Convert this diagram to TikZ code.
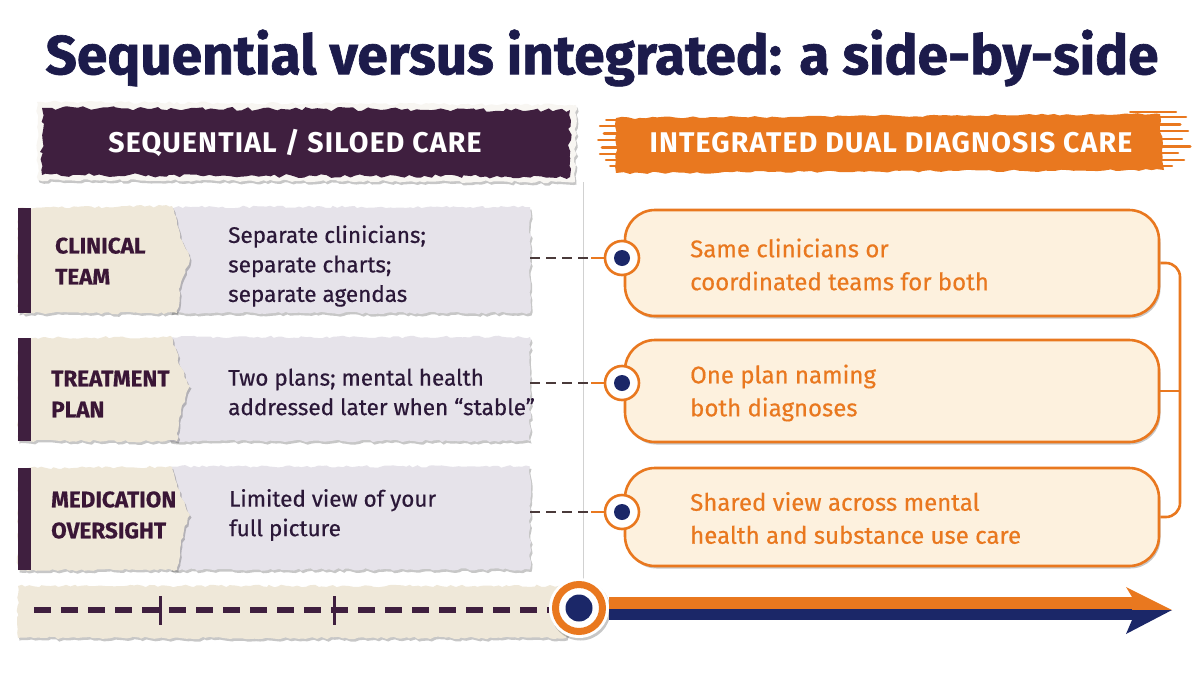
\documentclass[tikz,border=0pt]{standalone}
\usepackage{fontspec}
\setmainfont{Fira Sans}
\newfontfamily\fmed{Fira Sans}[FakeBold=0.5]
\newfontfamily\fheavy{Fira Sans}[FakeBold=1.2]
\newfontfamily\flbl{Fira Sans}[FakeBold=0.5]
\newfontfamily\fhead{Fira Sans}[LetterSpace=4]
\usetikzlibrary{decorations.pathmorphing,shadows,calc}
\definecolor{navy}{HTML}{1C1B4B}
\definecolor{plum}{HTML}{3F1F3F}
\definecolor{plumtext}{HTML}{3A1636}
\definecolor{inktext}{HTML}{2B1838}
\definecolor{orng}{HTML}{E9781F}
\definecolor{cream}{HTML}{FDF1DE}
\definecolor{beige}{HTML}{EFE8D9}
\definecolor{lav}{HTML}{E6E3EA}
\definecolor{dotblue}{HTML}{1B2768}
\definecolor{dashbrown}{HTML}{4A3A3A}
\definecolor{paperedge}{HTML}{F8F6F2}
\begin{document}
\pgfmathsetseed{7}
\begin{tikzpicture}[x=1pt,y=-1pt,
  torn/.style={decorate,decoration={random steps,segment length=4pt,amplitude=1.3pt}},
  softshadow/.style={drop shadow={shadow xshift=1.5pt,shadow yshift=-2.5pt,opacity=0.22,fill=black}},
  title/.style={font=\fontsize{55}{60}\selectfont\fheavy\bfseries,text=navy,inner sep=0},
  hdrtext/.style={font=\fontsize{28.5}{32}\selectfont\fhead\bfseries,text=white,inner sep=0},
  lbl/.style={font=\fontsize{22.5}{31}\selectfont\flbl\bfseries,text=plumtext,align=left,inner sep=0,anchor=west},
  body/.style={font=\fontsize{22.5}{29.5}\fmed,text=inktext,align=left,inner sep=0,anchor=west},
  rtext/.style={font=\fontsize{24}{33}\fmed,text=orng,align=left,inner sep=0,anchor=west},
  panel/.style={fill=lav,torn,softshadow,minimum width=360pt,inner sep=0},
  ibox/.style={draw=orng,line width=2.6pt,fill=cream,rounded corners=30pt,minimum width=534pt,inner sep=0,softshadow},
  ring/.style={circle,draw=orng,line width=2.6pt,fill=white,minimum size=34pt,inner sep=0},
  dot/.style={circle,fill=dotblue,minimum size=16pt,inner sep=0},
  dashc/.style={draw=dashbrown,line width=2.8pt,dash pattern=on 10pt off 6pt},
  olink/.style={draw=orng,line width=2.6pt},
  bracket/.style={draw=orng,line width=2.6pt,rounded corners=14pt}
]
\useasboundingbox (0,0) rectangle (1200,675);
\fill[white] (0,0) rectangle (1200,675);

% title
\node[title] (title) at (602,58) {Sequential versus integrated: a side-by-side};

% separator
\draw[black!18,line width=0.8pt] (583,182) -- (583,582);

% left header
\fill[paperedge,torn,softshadow] (37,102) -- (576,105) -- (575,182) -- (38,180) -- cycle;
\fill[plum,decorate,decoration={random steps,segment length=5pt,amplitude=2pt}] (42,108) -- (570,110) -- (570,177) -- (42,175) -- cycle;
\node[hdrtext] (hl) at (295,143) {SEQUENTIAL / SILOED CARE};

% right header brush
\fill[orng,decorate,decoration={random steps,segment length=6pt,amplitude=1.2pt}] (616,118) -- (1160,114) -- (1164,170) -- (616,173) -- cycle;
\foreach \yy/\xa/\xb/\w in {120/606/630/2, 126/600/640/2.5, 133/604/630/3, 140/598/625/2, 147/602/635/3, 154/600/628/2.5, 160/606/632/2.5, 166/610/640/2,
  112/1130/1176/2, 117/1140/1186/2.5, 124/1150/1180/3, 131/1150/1188/2.5, 139/1150/1182/2, 146/1150/1190/3, 153/1150/1178/2.5, 160/1150/1184/2.5, 166/1140/1172/2}
  \draw[orng,line width=\w pt,line cap=round] (\xa,\yy) -- (\xb,\yy);
\node[hdrtext] (hr) at (891,143) {INTEGRATED DUAL DIAGNOSIS CARE};

% ---------- row 1
\node[panel,minimum height=106pt] (p1) at (350,260) {};
\fill[beige,torn,softshadow] (18,208) -- (172,206) -- (180,238) -- (190,258) -- (181,282) -- (177,313) -- (18,313) -- cycle;
\fill[plum] (18,208) rectangle (31,313);
\node[lbl] (l1) at (55,261) {CLINICAL\\TEAM};
\node[body] (t1) at (228,266) {Separate clinicians;\\separate charts;\\separate agendas};

% ---------- row 2
\node[panel,minimum height=104pt] (p2) at (350,389) {};
\fill[beige,torn,softshadow] (18,338) -- (172,337) -- (180,366) -- (190,386) -- (181,410) -- (177,441) -- (18,441) -- cycle;
\fill[plum] (18,338) rectangle (31,441);
\node[lbl] (l2) at (51,394) {TREATMENT\\PLAN};
\node[body] (t2) at (228,392) {Two plans; mental health\\addressed later when “stable”};

% ---------- row 3
\node[panel,minimum height=103pt] (p3) at (350,518) {};
\fill[beige,torn,softshadow] (18,468) -- (172,467) -- (180,496) -- (190,515) -- (181,540) -- (177,570) -- (18,570) -- cycle;
\fill[plum] (18,468) rectangle (31,570);
\node[lbl] (l3) at (51,515) {MEDICATION\\OVERSIGHT};
\node[body] (t3) at (229,515) {Limited view of your\\full picture};

% ---------- right boxes
\node[ibox,minimum height=106pt] (b1) at (892,263) {};
\node[ibox,minimum height=102pt] (b2) at (892,391) {};
\node[ibox,minimum height=98pt] (b3) at (892,517) {};
\node[rtext] (r1) at (690,264.5) {Same clinicians or\\coordinated teams for both};
\node[rtext] (r2) at (690,393) {One plan naming\\both diagnoses};
\node[rtext] (r3) at (690,518) {Shared view across mental\\health and substance use care};

% circles
\node[ring] (c1) at (622,258) {};
\node[dot] (d1) at (c1) {};
\node[ring] (c2) at (622,383) {};
\node[dot] (d2) at (c2) {};
\node[ring] (c3) at (622,512) {};
\node[dot] (d3) at (c3) {};

% dashed links
\coordinate (k1) at (591,258);
\coordinate (k2) at (591,383);
\coordinate (k3) at (591,512);
\draw[dashc] (p1.east |- k1) -- (k1);
\draw[olink] (k1) -- (c1.west);
\draw[dashc] (p2.east |- k2) -- (k2);
\draw[olink] (k2) -- (c2.west);
\draw[dashc] (p3.east |- k3) -- (k3);
\draw[olink] (k3) -- (c3.west);

% bracket
\coordinate (br) at (1180,0);
\draw[bracket] (b1.east) -- (b1.east -| br) -- (b3.east -| br) -- (b3.east);
\draw[olink] (b2.east) -- (b2.east -| br);

% ---------- bottom timeline
\node[fill=beige,torn,softshadow,minimum width=548pt,minimum height=52pt,inner sep=0] (bs) at (292,612) {};
\node[circle,fill=white,minimum size=60pt,inner sep=0,softshadow] (bcw) at (579,608) {};
\node[circle,draw=orng,line width=7pt,fill=white,minimum size=47pt,inner sep=0] (bc) at (bcw) {};
\node[circle,fill=dotblue,minimum size=27pt,inner sep=0] (bd) at (bc) {};
\coordinate (d0) at (34,610);
\draw[plum,line width=6pt,dash pattern=on 17pt off 10pt] (d0) -- (bcw.west |- d0);
\draw[plum,line width=3pt] (160,596) -- (160,625);
\draw[plum,line width=3pt] (334,596) -- (334,625);

% arrow
\coordinate (tip) at (1172,610);
\fill[orng] (bcw.east |- 0,597) rectangle (1132,609);
\fill[dotblue] (bcw.east |- 0,609) rectangle (1132,620);
\fill[orng] (1126,587) -- (tip) -- (1132,610) -- (1132,597) -- cycle;
\fill[dotblue] (1126,634) -- (tip) -- (1132,610) -- (1132,620) -- cycle;
\end{tikzpicture}
\end{document}
